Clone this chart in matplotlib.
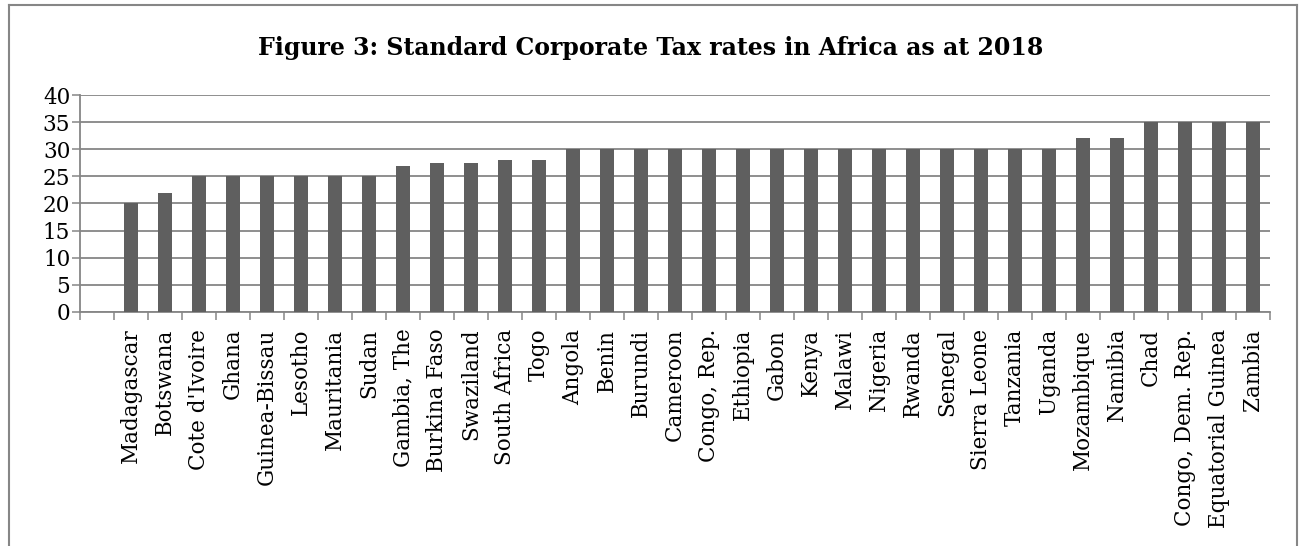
import numpy as np
import matplotlib.pyplot as plt
from matplotlib.lines import Line2D

countries = ["Madagascar", "Botswana", "Cote d'Ivoire", "Ghana", "Guinea-Bissau",
             "Lesotho", "Mauritania", "Sudan", "Gambia, The", "Burkina Faso",
             "Swaziland", "South Africa", "Togo", "Angola", "Benin", "Burundi",
             "Cameroon", "Congo, Rep.", "Ethiopia", "Gabon", "Kenya", "Malawi",
             "Nigeria", "Rwanda", "Senegal", "Sierra Leone", "Tanzania", "Uganda",
             "Mozambique", "Namibia", "Chad", "Congo, Dem. Rep.",
             "Equatorial Guinea", "Zambia"]
rates = [20, 22, 25, 25, 25, 25, 25, 25, 27, 27.5, 27.5, 28, 28,
         30, 30, 30, 30, 30, 30, 30, 30, 30, 30, 30, 30, 30, 30, 30,
         32, 32, 35, 35, 35, 35]
yticks = [0, 5, 10, 15, 20, 25, 30, 35, 40]

plt.rcParams['font.family'] = ['DejaVu Serif']
grid_col = '#868686'

fig = plt.figure(figsize=(13.01, 5.46), dpi=100)
ax = fig.add_axes([0.0615, 0.4286, 0.9145, 0.3974])

# first slot on the axis is left empty, as in the original
x = np.arange(1, len(countries) + 1)
ax.bar(x, rates, width=0.4, color='#5f5f5f', zorder=3)

ax.set_xlim(-0.5, len(countries) + 0.5)
ax.set_ylim(0, 40)
ax.set_yticks(yticks)
ax.tick_params(axis='y', labelsize=15.5, length=6, color=grid_col, width=1.1, pad=1)
ax.yaxis.grid(True, color=grid_col, linewidth=1.3, zorder=0)

ax.set_xticks(x)
ax.set_xticklabels(countries, rotation=90, fontsize=15.5)
ax.tick_params(axis='x', length=0, pad=12)
ax.set_xticks(np.arange(-0.5, len(countries) + 1), minor=True)
ax.tick_params(axis='x', which='minor', length=6, color=grid_col, width=1.1)

for s in ['top', 'right']:
    ax.spines[s].set_visible(False)
for s in ['left', 'bottom']:
    ax.spines[s].set_color(grid_col)
    ax.spines[s].set_linewidth(1.3)

fig.text(0.5, 0.913, "Figure 3: Standard Corporate Tax rates in Africa as at 2018",
         ha='center', va='center', fontsize=17, fontweight='bold')

# outer chart frame (bottom edge falls outside the picture)
frame = dict(color=grid_col, linewidth=1.5, transform=fig.transFigure)
fig.add_artist(Line2D([0.007, 0.007], [0, 0.99], **frame))
fig.add_artist(Line2D([0.997, 0.997], [0, 0.99], **frame))
fig.add_artist(Line2D([0.007, 0.997], [0.99, 0.99], **frame))

fig.savefig('out.png', dpi=100)
